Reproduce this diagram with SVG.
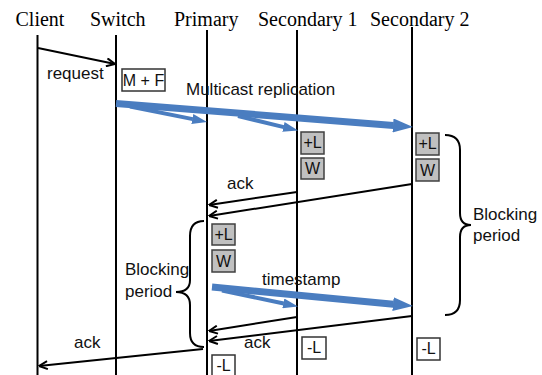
<svg xmlns="http://www.w3.org/2000/svg" width="542" height="375" viewBox="0 0 542 375">
<style>
  .hdr { font-family: "Liberation Serif", "Times New Roman", serif; font-size: 20px; fill: #000; }
  .lbl { font-family: "Liberation Sans", Arial, sans-serif; font-size: 17px; fill: #111; }
  .bx  { font-family: "Liberation Sans", Arial, sans-serif; font-size: 16px; fill: #111; text-anchor: middle; }
  .life { stroke: #000; stroke-width: 2; }
  .ack { stroke: #000; stroke-width: 2; fill: none; marker-end: url(#open); }
  .blue { stroke: #4a7dc0; fill: none; }
  .gray { fill: #c0c0c0; stroke: #404040; stroke-width: 1.5; }
  .white { fill: #fff; stroke: #333; stroke-width: 1.5; }
  .brace { fill: none; stroke: #000; stroke-width: 2; }
</style>
<defs>
  <marker id="open" viewBox="0 0 10 10" refX="9.5" refY="5" markerWidth="10" markerHeight="10" markerUnits="userSpaceOnUse" orient="auto">
    <path d="M1,1 L9.5,5 L1,9" fill="none" stroke="#000" stroke-width="2"/>
  </marker>
  <marker id="bhead" viewBox="0 0 20 14" refX="0.5" refY="7" markerWidth="20" markerHeight="14" markerUnits="userSpaceOnUse" orient="auto">
    <path d="M0,0 L20,7 L0,14 Z" fill="#4a7dc0"/>
  </marker>
  <marker id="bhead2" viewBox="0 0 15 10" refX="0.5" refY="5" markerWidth="15" markerHeight="10" markerUnits="userSpaceOnUse" orient="auto">
    <path d="M0,0 L15,5 L0,10 Z" fill="#4a7dc0"/>
  </marker>
</defs>

<g id="client">
  <text class="hdr" x="15.5" y="26">Client</text>
  <line class="life" x1="37.5" y1="35" x2="37.5" y2="375"/>
</g>
<g id="switch">
  <text class="hdr" x="90" y="26">Switch</text>
  <line class="life" x1="116" y1="35" x2="116" y2="375"/>
  <rect class="white" x="122" y="69" width="43" height="22"/>
  <text class="bx" x="143.5" y="86">M + F</text>
</g>
<g id="primary">
  <text class="hdr" x="174" y="26">Primary</text>
  <line class="life" x1="207" y1="30" x2="207" y2="375"/>
  <rect class="gray" x="212" y="224" width="23" height="21"/>
  <text class="bx" x="223.5" y="240">+L</text>
  <rect class="gray" x="212" y="250" width="23" height="22"/>
  <text class="bx" x="223.5" y="267">W</text>
  <rect class="white" x="212" y="355" width="23" height="22"/>
  <text class="bx" x="223.5" y="371">-L</text>
</g>
<g id="secondary1">
  <text class="hdr" x="258" y="26">Secondary 1</text>
  <line class="life" x1="297" y1="30" x2="297" y2="375"/>
  <rect class="gray" x="301" y="132" width="23" height="22"/>
  <text class="bx" x="312.5" y="148">+L</text>
  <rect class="gray" x="301" y="158" width="23" height="21"/>
  <text class="bx" x="312.5" y="174">W</text>
  <rect class="white" x="302" y="337" width="24" height="22"/>
  <text class="bx" x="314" y="353">-L</text>
</g>
<g id="secondary2">
  <text class="hdr" x="370" y="26">Secondary 2</text>
  <line class="life" x1="412" y1="27" x2="412" y2="375"/>
  <rect class="gray" x="416" y="133" width="23" height="22"/>
  <text class="bx" x="427.5" y="149">+L</text>
  <rect class="gray" x="416" y="159" width="23" height="22"/>
  <text class="bx" x="427.5" y="176">W</text>
  <rect class="white" x="417" y="338" width="23" height="22"/>
  <text class="bx" x="428.5" y="354">-L</text>
</g>

<g id="blocking-right">
  <path class="brace" d="M445,135 C455,135 460,140 460,150 L460,213 C460,220 463,225 471,225 C463,225 460,230 460,237 L460,300 C460,310 455,315 445,315"/>
  <text class="lbl" x="473" y="220">Blocking</text>
  <text class="lbl" x="473" y="241">period</text>
</g>
<g id="blocking-left">
  <path class="brace" d="M204,221 C195,221 190,226 190,236 L190,280 C190,288 186,292 176,292 C186,292 190,297 190,305 L190,333 C190,342 195,347 204,347"/>
  <text class="lbl" x="125" y="275">Blocking</text>
  <text class="lbl" x="125" y="297">period</text>
</g>

<g id="connectors">
  <line class="ack" x1="38" y1="48" x2="115" y2="64"/>
  <text class="lbl" x="47" y="79">request</text>

  <line class="blue" stroke-width="7" x1="116" y1="103.5" x2="393.5" y2="125.5" marker-end="url(#bhead)"/>
  <line class="blue" stroke-width="4" x1="130" y1="106.5" x2="192.8" y2="119.1" marker-end="url(#bhead2)"/>
  <line class="blue" stroke-width="4" x1="238" y1="116" x2="283.9" y2="127.1" marker-end="url(#bhead2)"/>
  <text class="lbl" x="186" y="95">Multicast replication</text>

  <line class="ack" x1="297" y1="192" x2="209" y2="205"/>
  <line class="ack" x1="412" y1="184" x2="209" y2="216"/>
  <text class="lbl" x="227" y="189">ack</text>

  <line class="blue" stroke-width="7" x1="212" y1="287" x2="393.5" y2="304.2" marker-end="url(#bhead)"/>
  <line class="blue" stroke-width="4" x1="222" y1="290.5" x2="283.8" y2="303.5" marker-end="url(#bhead2)"/>
  <text class="lbl" x="262" y="285">timestamp</text>

  <line class="ack" x1="297" y1="317" x2="209" y2="331"/>
  <line class="ack" x1="412" y1="316" x2="209" y2="341"/>
  <text class="lbl" x="244" y="348">ack</text>

  <line class="ack" x1="203" y1="349" x2="39" y2="366"/>
  <text class="lbl" x="74" y="348">ack</text>
</g>
</svg>
